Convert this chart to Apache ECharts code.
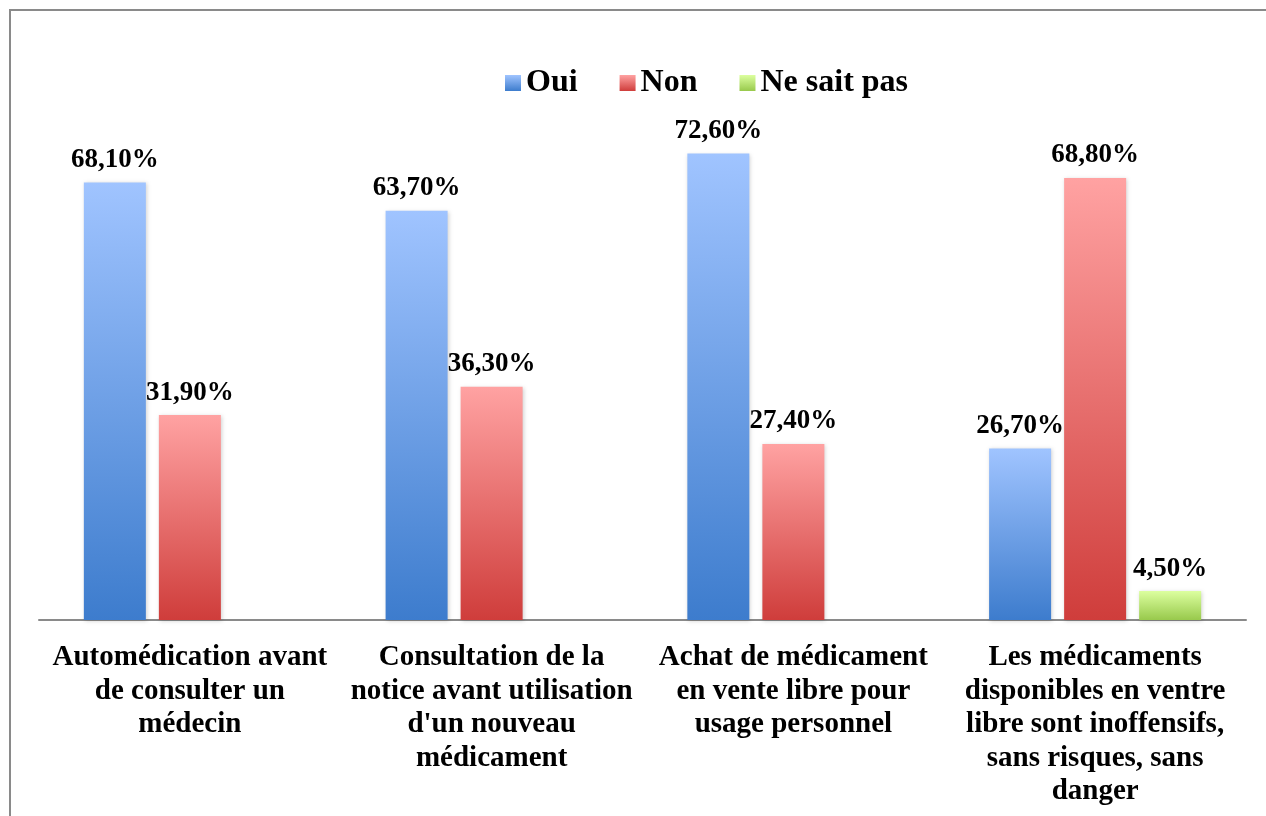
<!DOCTYPE html>
<html>
<head>
<meta charset="utf-8">
<script src="https://cdn.jsdelivr.net/npm/echarts@6/dist/echarts.min.js"></script>
<style>
  html, body { margin: 0; padding: 0; background: #fff; }
  #frame { position: absolute; left: 9px; top: 9px; width: 1257px; height: 807px;
           border-top: 2px solid #8a8a8a; border-left: 2px solid #8a8a8a; }
  #chart { position: absolute; left: 0; top: 0; width: 1266px; height: 816px; }
</style>
</head>
<body>
<div id="frame"></div>
<div id="chart"></div>
<script>
// catégories (axe X)
const categories = [
  "Automédication avant\nde consulter un\nmédecin",
  "Consultation de la\nnotice avant utilisation\nd'un nouveau\nmédicament",
  "Achat de médicament\nen vente libre pour\nusage personnel",
  "Les médicaments\ndisponibles en ventre\nlibre sont inoffensifs,\nsans risques, sans\ndanger"
]
const oui = [68.1, 63.7, 72.6, 26.7]
const non = [31.9, 36.3, 27.4, 68.8]
const neSaitPas = [null, null, null, 4.5]

function grad(top, bottom) {
  return new echarts.graphic.LinearGradient(0, 0, 0, 1, [
    { offset: 0, color: top },
    { offset: 1, color: bottom }
  ])
}

const font = "'Liberation Serif', 'Times New Roman', serif"

const labelStyle = {
  show: true,
  position: 'top',
  distance: 9,
  fontFamily: font,
  fontWeight: 'bold',
  fontSize: 27,
  color: '#000',
  formatter: p => p.value.toFixed(2).replace('.', ',') + '%'
}

function serie(name, data, top, bottom) {
  return {
    name: name,
    type: 'bar',
    data: data,
    barWidth: 62,
    barGap: '21%',
    itemStyle: {
      color: grad(top, bottom),
      shadowBlur: 4,
      shadowColor: 'rgba(0,0,0,0.18)',
      shadowOffsetX: 1,
      shadowOffsetY: 1
    },
    label: labelStyle
  }
}

const chart = echarts.init(document.getElementById('chart'))
chart.setOption({
  animation: false,
  legend: {
    top: 62,
    left: 500,
    icon: 'rect',
    itemWidth: 16,
    itemHeight: 16,
    itemGap: 42,
    textStyle: { fontFamily: font, fontWeight: 'bold', fontSize: 32, color: '#000' },
    data: ['Oui', 'Non', 'Ne sait pas']
  },
  grid: { left: 39, right: 20, top: 106, bottom: 196 },
  xAxis: {
    type: 'category',
    data: categories,
    axisLine: { lineStyle: { color: '#8a8a8a', width: 2 } },
    axisTick: { show: false },
    axisLabel: {
      interval: 0,
      margin: 21,
      fontFamily: font,
      fontWeight: 'bold',
      fontSize: 29,
      lineHeight: 33.5,
      color: '#000',
      align: 'center'
    }
  },
  yAxis: {
    type: 'value',
    min: 0,
    max: 80,
    show: false
  },
  series: [
    serie('Oui', oui, '#a0c4ff', '#3d7ccd'),
    serie('Non', non, '#ffa2a2', '#cf3d3b'),
    serie('Ne sait pas', neSaitPas, '#dcff9f', '#98c94c')
  ]
})
</script>
</body>
</html>
